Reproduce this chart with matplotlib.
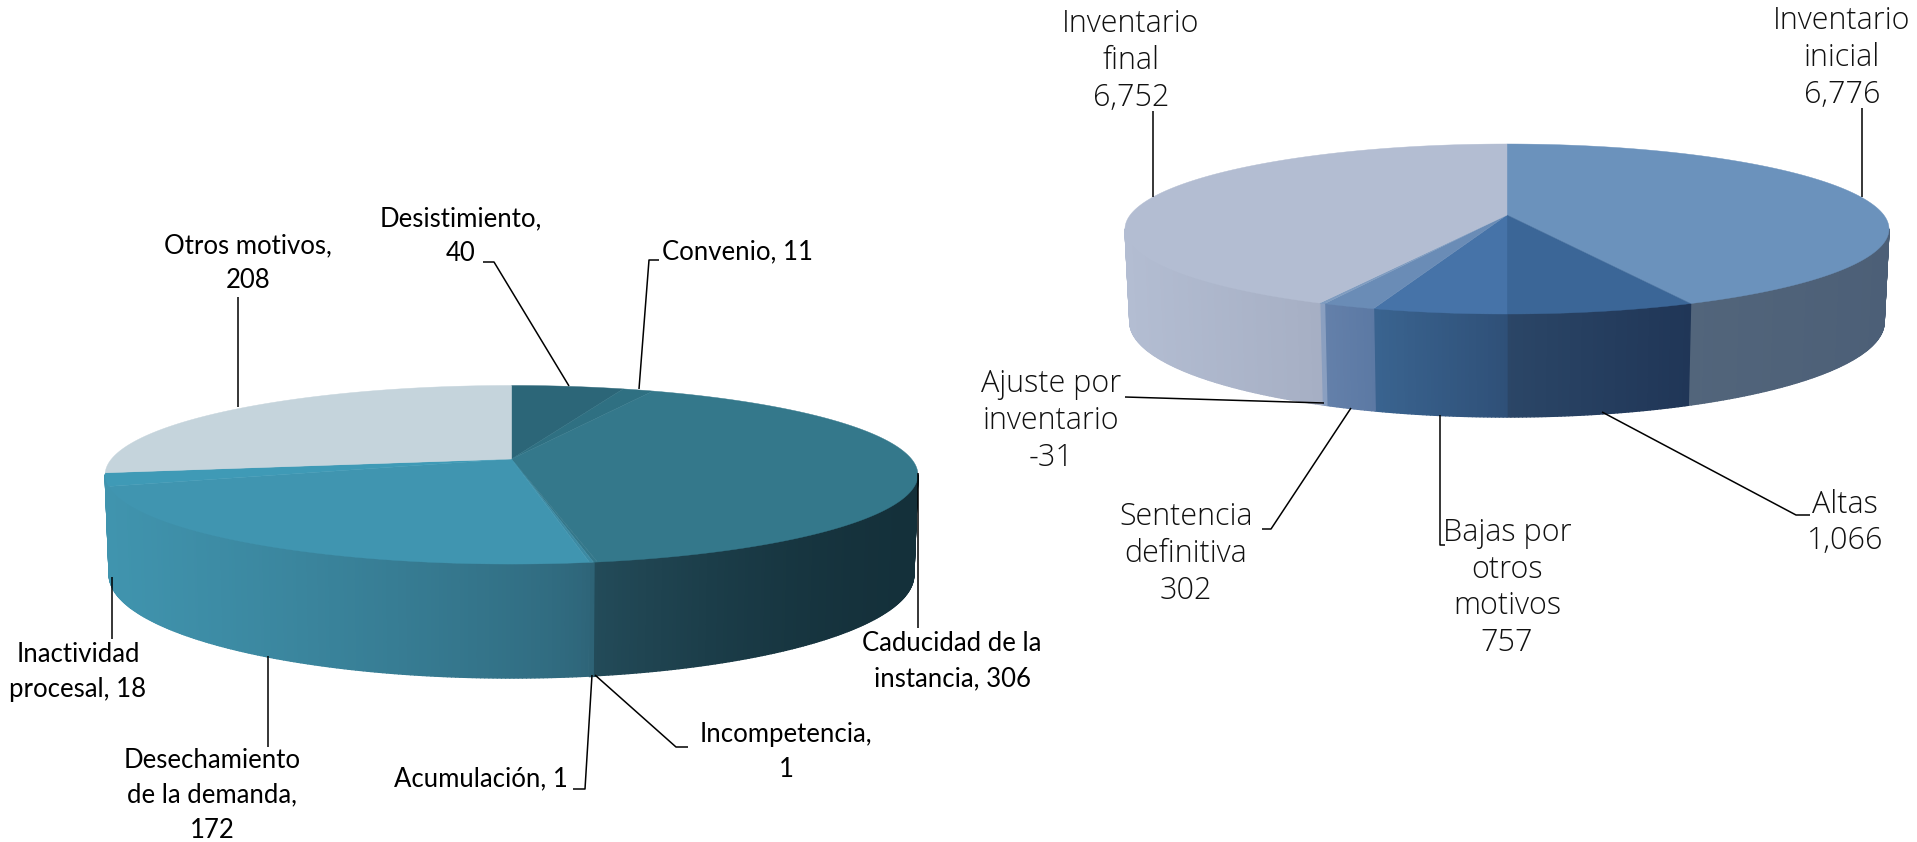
import matplotlib
matplotlib.use('Agg')
import matplotlib.pyplot as plt
from matplotlib.collections import PolyCollection
from matplotlib.colors import to_rgb
import numpy as np

# left pie
left_names = ['Desistimiento,\n', 'Convenio, ', 'Caducidad de la\ninstancia, ', 'Incompetencia,\n',
              'Acumulación, ', 'Desechamiento\nde la demanda,\n', 'Inactividad\nprocesal, ', 'Otros motivos,\n']
left_values = [40, 11, 306, 1, 1, 172, 18, 208]

# right pie
right_names = ['Inventario\ninicial\n', 'Altas\n', 'Bajas por\notros\nmotivos\n', 'Sentencia\ndefinitiva\n',
               'Ajuste por\ninventario\n', 'Inventario\nfinal\n']
right_values = [6776, 1066, 757, 302, -31, 6752]

# top colour, wall colour at the right end, wall colour at the left end, gradient curve
left_colors = [('#2c6678', '#2c6678', '#2c6678', 1),
               ('#2f7082', '#2f7082', '#2f7082', 1),
               ('#34788b', '#14303a', '#234b59', 1.6),
               ('#34788b', '#234b59', '#234b59', 1),
               ('#3c8aa3', '#2e6376', '#2e6376', 1),
               ('#4095b0', '#2e6579', '#4094ae', 0.75),
               ('#3f9ab6', '#4094ae', '#4094ae', 1),
               ('#c5d4dc', '#a9b8c0', '#a9b8c0', 1)]
right_colors = [('#6b92bc', '#4c5f77', '#52657b', 1),
                ('#3b6697', '#203657', '#2b4667', 1),
                ('#4673a8', '#2f5078', '#3a6490', 1),
                ('#6a8cb6', '#5c79a4', '#6480aa', 1),
                ('#7f9cc0', '#8a9fc0', '#8a9fc0', 1),
                ('#b3bdd2', '#a6afc4', '#b3bdd2', 1)]

# centre x, apex y, half width, depth, perspective, then the same for the bottom rim
left_geom = dict(cx=511.5, y0=459, X=400, Y=86.5, k=0.1765, y0b=556.6, Xb=396, Yb=100)
right_geom = dict(cx=1507, y0=215, X=376.8, Y=82.7, k=0.1647, y0b=306.4, Xb=372, Yb=92.4)


def rim(theta, cx, y0, X, Y, k):
    t = np.radians(theta)
    w = 1 + k * np.cos(t)
    return cx + X * np.sin(t) / w, y0 - Y * np.cos(t) / w


def draw_pie(ax, values, colors, g):
    sizes = np.abs(values)
    edges = np.concatenate([[0], np.cumsum(sizes)]) / sizes.sum() * 360
    # the wall only shows between the two points where the rim turns back
    turn = np.degrees(np.arccos(-g['k']))

    for i, c in enumerate(colors):
        a, b = max(edges[i], turn), min(edges[i + 1], 360 - turn)
        if b <= a:
            continue
        th = np.linspace(a, b, int((b - a) * 2) + 2)
        x0, y0 = rim(th, g['cx'], g['y0'], g['X'], g['Y'], g['k'])
        x1, y1 = rim(th, g['cx'], g['y0b'], g['Xb'], g['Yb'], g['k'])
        quads, cols = [], []
        for j in range(len(th) - 1):
            quads.append([(x0[j], y0[j]), (x0[j + 1] , y0[j + 1]), (x1[j + 1], y1[j + 1]), (x1[j], y1[j])])
            f = ((x0[0] - x0[j]) / max(x0[0] - x0[-1], 1)) ** c[3]
            cols.append(tuple((1 - f) * np.array(to_rgb(c[1])) + f * np.array(to_rgb(c[2]))))
        ax.add_collection(PolyCollection(quads, facecolors=cols, edgecolors=cols, linewidths=1.0, zorder=2))

    for i, c in enumerate(colors):
        th = np.linspace(edges[i], edges[i + 1], int(edges[i + 1] - edges[i]) * 2 + 2)
        x, y = rim(th, g['cx'], g['y0'], g['X'], g['Y'], g['k'])
        ax.fill(np.r_[g['cx'], x], np.r_[g['y0'], y], color=c[0], lw=0.3, zorder=3)


fig = plt.figure(figsize=(19.17, 8.42), dpi=100)
ax = fig.add_axes([0, 0, 1, 1])
ax.set_xlim(0, 1917)
ax.set_ylim(842, 0)
ax.axis('off')

draw_pie(ax, left_values, left_colors, left_geom)
draw_pie(ax, right_values, right_colors, right_geom)

# label centres and leader lines, same order as the values
left_pos = [(461, 236), (738, 252), (952, 661), (786, 752), (481, 779), (212, 795), (78, 672), (248, 263)]
left_lines = [[(483, 262), (494, 262), (569, 386)],
              [(659, 260), (649, 260), (639, 389)],
              [(918, 473), (918, 628)],
              [(595, 675), (676, 747), (688, 747)],
              [(592, 675), (585, 789), (573, 789)],
              [(268, 656), (268, 747)],
              [(112, 577), (112, 639)],
              [(238, 297), (238, 407)]]
right_pos = [(1842, 58), (1845, 523), (1507, 588), (1186, 554), (1051, 421), (1131, 61)]
right_lines = [[(1862, 108), (1862, 197)],
               [(1602, 412), (1796, 515), (1810, 515)],
               [(1440, 415), (1440, 545), (1445, 545)],
               [(1262, 529), (1271, 529), (1351, 408)],
               [(1125, 397), (1324, 403)],
               [(1153, 111), (1153, 197)]]

for name, v, pos, line in zip(left_names, left_values, left_pos, left_lines):
    ax.text(pos[0], pos[1], f'{name}{v:,}', ha='center', va='center', multialignment='center',
            family='Lato', fontsize=18.5, linespacing=1.5, color='black', zorder=5)
    ax.plot(*zip(*line), color='black', lw=1.1, zorder=4, solid_capstyle='butt')

for name, v, pos, line in zip(right_names, right_values, right_pos, right_lines):
    ax.text(pos[0], pos[1], f'{name}{v:,}', ha='center', va='center', multialignment='center',
            family='Open Sans', weight='light', fontsize=22, linespacing=1.2, color='#111111', zorder=5)
    ax.plot(*zip(*line), color='black', lw=1.1, zorder=4, solid_capstyle='butt')

fig.savefig('out.png', dpi=100, facecolor='white')
